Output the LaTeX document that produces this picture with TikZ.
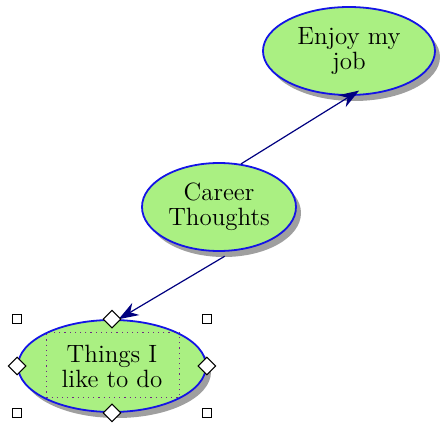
\documentclass[tikz,border=0pt]{standalone}
\usepackage{tikz}
\usetikzlibrary{arrows.meta,positioning,calc,shapes.geometric,shadows}

\definecolor{bubblegreen}{RGB}{170,240,130}
\definecolor{bubbleblue}{RGB}{20,20,230}
\definecolor{linknavy}{RGB}{0,0,128}
\definecolor{selpurple}{RGB}{110,40,130}

\begin{document}
\begin{tikzpicture}[x=0.5pt,y=-0.5pt,
	bubble/.style={ellipse, draw=bubbleblue, fill=bubblegreen, line width=0.9pt, inner sep=0pt, align=center,
		font=\fontsize{12.5}{12.5}\selectfont,
		drop shadow={shadow xshift=2.5pt, shadow yshift=-3pt, fill=gray!75, opacity=1}},
	link/.style={draw=linknavy, line width=0.6pt, -{Stealth[length=10pt,width=7pt]}},
	handlesq/.style={rectangle, draw=black, fill=white, line width=0.6pt, inner sep=0pt, minimum size=4.5pt},
	handledia/.style={diamond, draw=black, fill=white, line width=0.5pt, inner sep=0pt, minimum size=9pt}]
	\useasboundingbox (0,0) rectangle (446,423);

	\node (enjoy)  at (349,51)  [bubble, minimum width=86pt, minimum height=44pt] {Enjoy my\\job};
	\node (career) at (219,207) [bubble, minimum width=77pt, minimum height=44pt] {Career\\Thoughts};
	\node (things) at (112,366) [bubble, minimum width=94pt, minimum height=46pt] {Things I\\like to do};

	% selection frame round the text
	\node (thingsbox) at (113,365) [draw=selpurple, dotted, line width=0.6pt, minimum width=66.5pt, minimum height=32.5pt] {};

	\draw [link, shorten >=-5pt] (career.63) -- (enjoy.-88);
	\draw [link, shorten <=5pt]  (career.-72) -- (things.82);

	% handles
	\node [handlesq] at (things.north -| things.west) {};
	\node [handlesq] at (things.north -| things.east) {};
	\node [handlesq] at (things.south -| things.west) {};
	\node [handlesq] at (things.south -| things.east) {};
	\foreach \a in {north,south,east,west}
		\node [handledia] at (things.\a) {};
\end{tikzpicture}
\end{document}
